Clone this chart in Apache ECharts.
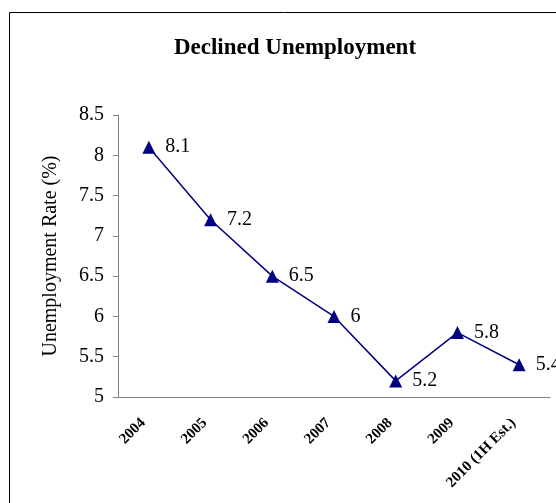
<!DOCTYPE html>
<html>
<head>
<meta charset="utf-8">
<script src="https://cdn.jsdelivr.net/npm/echarts@6/dist/echarts.min.js"></script>
<style>
  html, body { margin: 0; padding: 0; background: #fff; }
  #chart { width: 556px; height: 503px; }
</style>
</head>
<body>
<div id="chart"></div>
<script>
// Unemployment rate by year
const years = ['2004', '2005', '2006', '2007', '2008', '2009', '2010 (1H Est.)'];
const rates = [8.1, 7.2, 6.5, 6.0, 5.2, 5.8, 5.4];
const rateLabels = ['8.1', '7.2', '6.5', '6', '5.2', '5.8', '5.4'];

const serif = '"Liberation Serif", "DejaVu Serif", serif';
const chart = echarts.init(document.getElementById('chart'));

chart.setOption({
  backgroundColor: '#fff',
  animation: false,
  title: {
    text: 'Declined Unemployment',
    left: 290,
    textAlign: 'center',
    top: 32,
    textStyle: { fontFamily: serif, fontSize: 23, fontWeight: 'bold', color: '#000' }
  },
  graphic: [{
    type: 'rect',
    shape: { x: 9.5, y: 12.5, width: 600, height: 600 },
    style: { fill: 'none', stroke: '#000', lineWidth: 1 },
    silent: true
  }],
  grid: { left: 118, right: 6, top: 115, bottom: 106 },
  xAxis: {
    type: 'category',
    data: years,
    boundaryGap: true,
    axisLine: { lineStyle: { color: '#808080', width: 1 } },
    axisTick: { alignWithLabel: false, length: 4, lineStyle: { color: '#808080' } },
    axisLabel: {
      rotate: 45,
      interval: 0,
      margin: 18,
      padding: [0, 8, 0, 0],
      fontFamily: serif,
      fontSize: 15,
      fontWeight: 'bold',
      color: '#000'
    }
  },
  yAxis: {
    type: 'value',
    min: 5,
    max: 8.5,
    interval: 0.5,
    name: 'Unemployment Rate (%)',
    nameLocation: 'middle',
    nameGap: 57,
    nameTextStyle: { fontFamily: serif, fontSize: 20, color: '#000' },
    splitLine: { show: false },
    axisLine: { show: true, lineStyle: { color: '#808080', width: 1 } },
    axisTick: { show: true, length: 5, lineStyle: { color: '#808080' } },
    axisLabel: { fontFamily: serif, fontSize: 20, color: '#000', margin: 14 }
  },
  series: [{
    type: 'line',
    data: rates,
    symbol: 'triangle',
    symbolSize: 13,
    lineStyle: { color: '#000080', width: 1.5 },
    itemStyle: { color: '#000080' },
    label: {
      show: true,
      position: 'right',
      distance: 10,
      fontFamily: serif,
      fontSize: 20,
      color: '#000',
      formatter: p => rateLabels[p.dataIndex]
    }
  }]
});
</script>
</body>
</html>
